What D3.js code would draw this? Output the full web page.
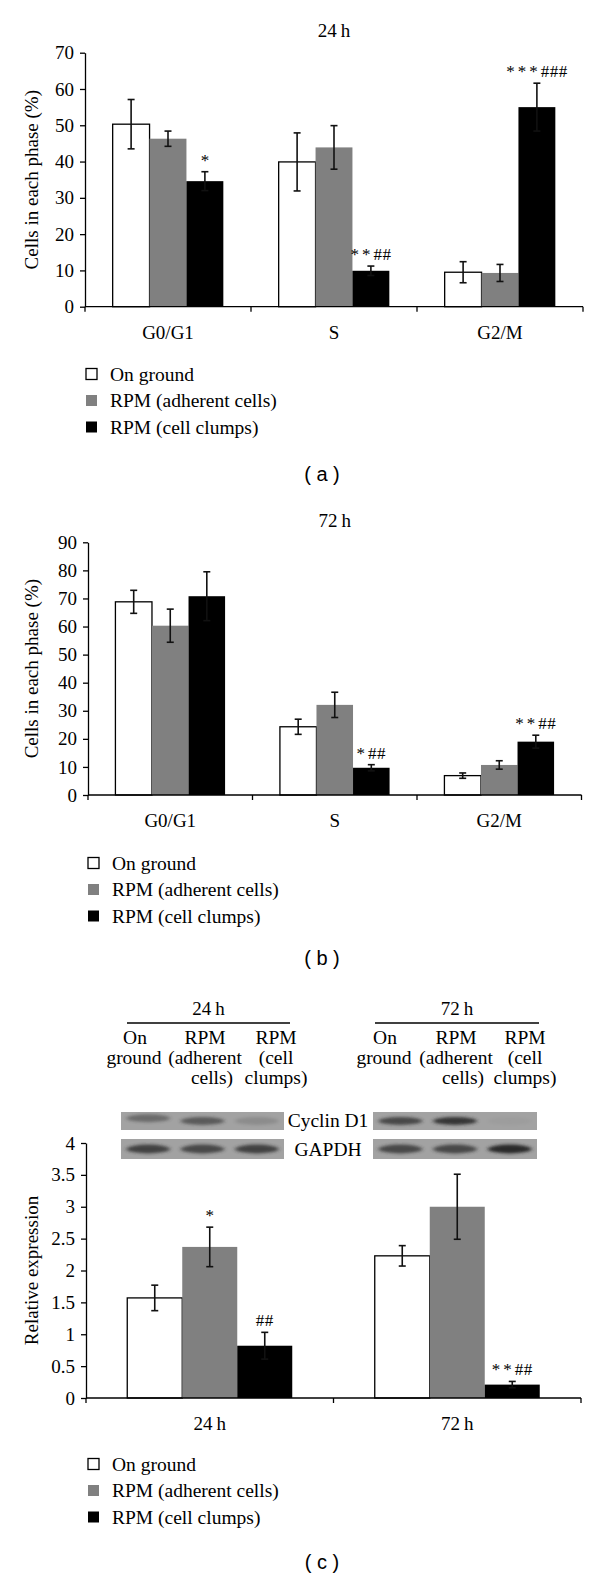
<!DOCTYPE html>
<html><head><meta charset="utf-8">
<script src="https://cdn.jsdelivr.net/npm/d3@7"></script>
<style>
body{margin:0;background:#fff}
svg{display:block}
text{font-family:"Liberation Serif","Times New Roman",serif;fill:#000}
</style>
</head><body>
<svg id="chart" width="600" height="1579"></svg>
<script>
// ---------- data ----------
const seriesNames = ["On ground", "RPM (adherent cells)", "RPM (cell clumps)"];
const seriesColors = ["#ffffff", "#808080", "#000000"];
const phases = ["G0/G1", "S", "G2/M"];
const times = ["24\u2009h", "72\u2009h"];

// panel (a) 24 h : rows = phases, cols = series
const a24Mean = [[50.3, 46.3, 34.6], [39.9, 43.9, 9.9], [9.5, 9.3, 55.0]];
const a24Err  = [[6.8, 2.1, 2.6], [8.0, 6.0, 1.3], [2.9, 2.35, 6.6]];
const a24Marks = [["", "", "*"], ["", "", "**##"], ["", "", "***###"]];
const a24Ticks = [0, 10, 20, 30, 40, 50, 60, 70];

// panel (b) 72 h
const b72Mean = [[68.8, 60.3, 70.8], [24.3, 32.1, 9.7], [6.9, 10.7, 19.0]];
const b72Err  = [[4.1, 5.9, 8.7], [2.7, 4.5, 1.1], [0.95, 1.5, 2.3]];
const b72Marks = [["", "", ""], ["", "", "*##"], ["", "", "**##"]];
const b72Ticks = [0, 10, 20, 30, 40, 50, 60, 70, 80, 90];

// panel (c) Cyclin D1 relative expression : rows = times, cols = series
const cMean = [[1.57, 2.37, 0.82], [2.23, 3.0, 0.21]];
const cErr  = [[0.2, 0.31, 0.21], [0.16, 0.51, 0.05]];
const cMarks = [["", "*", "##"], ["", "", "**##"]];
const cTicks = [0, 0.5, 1, 1.5, 2, 2.5, 3, 3.5, 4];

// western blot band intensities (lanes: on ground, adherent, clumps)
const cyclin24 = [0.45, 0.6, 0.18];
const cyclin72 = [0.75, 0.9, 0.04];
const gapdh24 = [0.8, 0.75, 0.8];
const gapdh72 = [0.75, 0.75, 1.0];
const laneLines = [["On", "ground"], ["RPM", "(adherent", "cells)"], ["RPM", "(cell", "clumps)"]];

// ---------- drawing ----------
const svg = d3.select("#chart");
const defs = svg.append("defs");
defs.append("filter").attr("id", "blur").attr("x", "-50%").attr("y", "-100%").attr("width", "200%").attr("height", "300%")
  .append("feGaussianBlur").attr("stdDeviation", "2.2 1.6");

function addMark(g, x, y, mk) {
  const stars = mk.replace(/#/g, ""), hashes = mk.replace(/\*/g, "");
  const t = g.append("text").attr("x", x).attr("y", y).attr("text-anchor", "middle").attr("font-size", 17);
  if (stars) t.append("tspan").attr("letter-spacing", hashes ? 3 : 0).text(stars);
  if (hashes) t.append("tspan").attr("letter-spacing", 0.5).text(hashes);
}

function barPanel(o) {
  const g = svg.append("g");
  const y = d3.scaleLinear().domain([0, o.yMax]).range([o.yBase, o.yTop]);
  const x = d3.scaleBand().domain(o.cats).range([o.x0, o.x1]);
  const xs = d3.scaleBand().domain([0, 1, 2]).range([x.bandwidth() / 6, x.bandwidth() * 5 / 6]);

  if (o.title) g.append("text").attr("x", x(o.cats[1]) + x.bandwidth() / 2).attr("y", o.titleY)
    .attr("text-anchor", "middle").attr("font-size", 19).text(o.title);

  // bars
  o.cats.forEach((c, i) => {
    o.mean[i].forEach((m, j) => {
      const bx = x(c) + xs(j);
      g.append("rect").attr("x", bx).attr("y", y(m)).attr("width", xs.bandwidth())
        .attr("height", o.yBase - y(m)).attr("fill", seriesColors[j])
        .attr("stroke", j === 0 ? "#000" : "none").attr("stroke-width", 1.3);
    });
  });
  // error bars + marks
  o.cats.forEach((c, i) => {
    o.mean[i].forEach((m, j) => {
      const cx = x(c) + xs(j) + xs.bandwidth() / 2;
      const e = o.err[i][j];
      const top = y(m + e), bot = y(m - e);
      g.append("line").attr("x1", cx).attr("x2", cx).attr("y1", top).attr("y2", bot)
        .attr("stroke", "#111").attr("stroke-width", 1.6);
      [top, bot].forEach(yy => g.append("line").attr("x1", cx - 3.5).attr("x2", cx + 3.5)
        .attr("y1", yy).attr("y2", yy).attr("stroke", "#111").attr("stroke-width", 1.6));
      const mk = o.marks[i][j];
      if (mk) addMark(g, cx, top - 6, mk);
    });
  });

  // y axis
  const ya = g.append("g").attr("transform", `translate(${o.x0},0)`)
    .call(d3.axisLeft(y).tickValues(o.ticks).tickSize(5).tickSizeOuter(0).tickPadding(6).tickFormat(d3.format("")));
  ya.selectAll("path,line").attr("stroke", "#000").attr("stroke-width", 1.3);
  ya.selectAll("text").attr("font-size", 19).attr("fill", "#000");

  // x axis
  g.append("line").attr("x1", o.x0).attr("x2", o.x1).attr("y1", o.yBase).attr("y2", o.yBase)
    .attr("stroke", "#000").attr("stroke-width", 1.3);
  const bounds = o.cats.map(c => x(c)).concat([o.x1]);
  bounds.forEach(b => g.append("line").attr("x1", b).attr("x2", b).attr("y1", o.yBase).attr("y2", o.yBase + 5)
    .attr("stroke", "#000").attr("stroke-width", 1.3));
  o.cats.forEach(c => g.append("text").attr("x", x(c) + x.bandwidth() / 2).attr("y", o.yBase + 32)
    .attr("text-anchor", "middle").attr("font-size", 19).text(c));

  // y label
  g.append("text").attr("transform", `translate(${o.ylabelX},${(o.yBase + o.yTop) / 2}) rotate(-90)`)
    .attr("text-anchor", "middle").attr("dominant-baseline", "central").attr("font-size", 19).text(o.ylabel);

  // legend
  seriesNames.forEach((s, j) => {
    const cy = o.legendY + j * 26.5;
    g.append("rect").attr("x", o.legendX).attr("y", cy - 5.5).attr("width", 11).attr("height", 11)
      .attr("fill", seriesColors[j]).attr("stroke", j === 0 ? "#000" : seriesColors[j]).attr("stroke-width", j === 0 ? 1.3 : 0);
    g.append("text").attr("x", o.legendX + 24).attr("y", cy + 6.5).attr("font-size", 19.5).text(s);
  });
  // panel letter (sans-serif)
  g.append("text").attr("x", 322).attr("y", o.letterY).attr("text-anchor", "middle")
    .style("font-family", "'Liberation Sans', Arial, sans-serif").attr("font-size", 20)
    .style("white-space", "pre").text(o.letter);
  return {x, y, g};
}

barPanel({cats: phases, mean: a24Mean, err: a24Err, marks: a24Marks, yMax: 70, ticks: a24Ticks,
  x0: 85, x1: 583, yTop: 52.7, yBase: 306.7, title: "24\u2009h", titleY: 37,
  ylabel: "Cells in each phase (%)", ylabelX: 31, legendX: 86, legendY: 374, letter: "( a )", letterY: 481});

barPanel({cats: phases, mean: b72Mean, err: b72Err, marks: b72Marks, yMax: 90, ticks: b72Ticks,
  x0: 88, x1: 581.5, yTop: 542.3, yBase: 795, title: "72\u2009h", titleY: 527,
  ylabel: "Cells in each phase (%)", ylabelX: 31, legendX: 88, legendY: 863, letter: "( b )", letterY: 965});

barPanel({cats: times, mean: cMean, err: cErr, marks: cMarks, yMax: 4, ticks: cTicks,
  x0: 86, x1: 581, yTop: 1143, yBase: 1398, title: null,
  ylabel: "Relative expression", ylabelX: 31, legendX: 88, legendY: 1464, letter: "( c )", letterY: 1569});

// ---------- panel (c) header: time labels, lane labels and blots ----------
const hdr = svg.append("g");
const groups = [
  {label: "24\u2009h", x0: 127, x1: 290, cols: [135, 205, 276], cyc: cyclin24, gap: gapdh24, bx0: 121, bx1: 284},
  {label: "72\u2009h", x0: 375, x1: 539, cols: [385, 456, 525], cyc: cyclin72, gap: gapdh72, bx0: 373, bx1: 537}
];
const lineOffsets = [[0, -1], [0, 0, 7], [0, 0, 0]];
groups.forEach(gr => {
  hdr.append("text").attr("x", (gr.x0 + gr.x1) / 2).attr("y", 1015).attr("text-anchor", "middle")
    .attr("font-size", 19).text(gr.label);
  hdr.append("line").attr("x1", gr.x0).attr("x2", gr.x1).attr("y1", 1023).attr("y2", 1023)
    .attr("stroke", "#000").attr("stroke-width", 1.5);
  laneLines.forEach((lines, k) => {
    lines.forEach((t, r) => hdr.append("text").attr("x", gr.cols[k] + lineOffsets[k][r]).attr("y", 1044 + r * 20)
      .attr("text-anchor", "middle").attr("font-size", 19.5).text(t));
  });
  [[gr.cyc, 1112, 18, 0], [gr.gap, 1139, 20, 1]].forEach(([vals, by, bh, kind], bi) => {
    const clipId = `clip${gr.bx0}_${bi}`;
    defs.append("clipPath").attr("id", clipId).append("rect").attr("x", gr.bx0).attr("y", by).attr("width", gr.bx1 - gr.bx0).attr("height", bh);
    const bg = hdr.append("g").attr("clip-path", `url(#${clipId})`);
    bg.append("rect").attr("x", gr.bx0).attr("y", by).attr("width", gr.bx1 - gr.bx0).attr("height", bh).attr("fill", "#a2a2a2");
    const lw = (gr.bx1 - gr.bx0) / 3;
    vals.forEach((v, k) => {
      bg.append("ellipse").attr("cx", gr.bx0 + lw * (k + 0.5)).attr("cy", by + bh * (kind === 0 && k === 0 && gr.bx0 < 200 ? 0.35 : 0.5))
        .attr("rx", lw * 0.4).attr("ry", bh * 0.22).attr("fill", "#2a2a2a").attr("opacity", v).attr("filter", "url(#blur)");
    });
  });
});
hdr.append("text").attr("x", 328).attr("y", 1127).attr("text-anchor", "middle").attr("font-size", 19.5).text("Cyclin D1");
hdr.append("text").attr("x", 328).attr("y", 1156).attr("text-anchor", "middle").attr("font-size", 19.5).text("GAPDH");
</script>
</body></html>
